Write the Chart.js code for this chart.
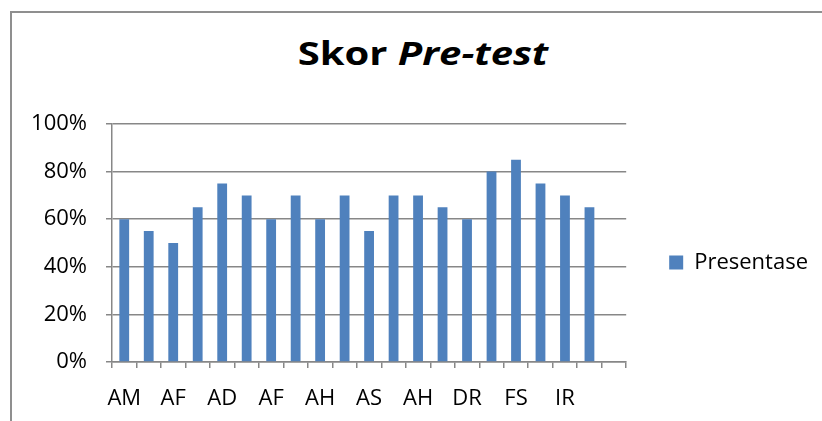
<!DOCTYPE html>
<html>
<head>
<meta charset="utf-8">
<script src="https://cdn.jsdelivr.net/npm/chart.js@4.4.1/dist/chart.umd.min.js"></script>
<style>
    html, body {
        margin: 0;
        padding: 0;
        background: #ffffff;
    }

    #wrap {
        position: relative;
        width: 822px;
        height: 421px;
        overflow: hidden;
    }

    #frame {
        position: absolute;
        left: 10px;
        top: 11px;
        width: 830px;
        height: 430px;
        border-left: 2px solid #8f8f8f;
        border-top: 2px solid #8f8f8f;
    }

    #title {
        position: absolute;
        left: 0;
        top: 35px;
        width: 846px;
        text-align: center;
        font-family: "Open Sans", sans-serif;
        font-weight: bold;
        font-size: 32px;
        line-height: 36px;
        color: #000000;
        transform: scaleX(1.25);
        transform-origin: 423px 0;
    }

    #chart {
        position: absolute;
        left: 0;
        top: 0;
    }
</style>
</head>
<body>

<div id="wrap">
    <div id="frame"></div>
    <div id="title">Skor <i>Pre-test</i></div>
    <canvas id="chart" width="822" height="421"></canvas>
</div>

<script>
// ======================================
// Data
// ======================================

const categories = [
    "AM", "", "AF", "", "AD", "", "AF", "", "AH", "", "AS",
    "", "AH", "", "DR", "", "FS", "", "IR", "", ""
];

const presentase = [
    60, 55, 50, 65, 75, 70, 60, 70, 60, 70, 55,
    70, 70, 65, 60, 80, 85, 75, 70, 65, null
];

const yTickValues = [0, 20, 40, 60, 80, 100];

const seriesName = "Presentase";

// ======================================
// Chart
// ======================================

const gridColor = "#878787";
const labelFont = { family: "'Open Sans', sans-serif", size: 22 };

const ctx = document.getElementById("chart").getContext("2d");

const chart = new Chart(ctx, {

    type: "bar",

    data: {
        labels: categories,
        datasets: [{
            label: seriesName,
            data: presentase,
            backgroundColor: "#4f81bd",
            borderWidth: 0,
            barPercentage: 0.4,
            categoryPercentage: 1.0
        }]
    },

    options: {

        responsive: false,
        animation: false,
        devicePixelRatio: 1,

        layout: {
            padding: { left: 20, right: 4, top: 124, bottom: 10 }
        },

        plugins: {
            title: { display: false },
            tooltip: { enabled: false },
            legend: {
                position: "right",
                // empty legend title, only used to nudge the entry up a bit
                title: {
                    display: true,
                    text: "",
                    font: { size: 1, lineHeight: 1 },
                    padding: { top: -11, bottom: 0 }
                },
                labels: {
                    boxWidth: 14,
                    boxHeight: 14,
                    padding: 43,
                    color: "#000000",
                    font: labelFont
                }
            }
        },

        scales: {

            x: {
                grid: {
                    offset: true,
                    drawOnChartArea: false,
                    drawTicks: true,
                    tickLength: 6,
                    color: gridColor,
                    lineWidth: 1.5
                },
                border: { color: gridColor, width: 1.5 },
                ticks: {
                    autoSkip: false,
                    maxRotation: 0,
                    minRotation: 0,
                    padding: 18,
                    color: "#000000",
                    font: labelFont
                },
                afterFit(scale) {
                    scale.height = 49;
                }
            },

            y: {
                min: 0,
                max: 100,
                grid: {
                    drawTicks: true,
                    tickLength: 6,
                    color: gridColor,
                    lineWidth: 1.5
                },
                border: { color: gridColor, width: 1.5 },
                ticks: {
                    padding: 19,
                    color: "#000000",
                    font: labelFont,
                    callback: (v) => v + "%"
                },
                afterBuildTicks(scale) {
                    scale.ticks = yTickValues.map(v => ({ value: v }));
                },
                afterFit(scale) {
                    scale.width = 92;
                }
            }
        }
    }
});
</script>

</body>
</html>
